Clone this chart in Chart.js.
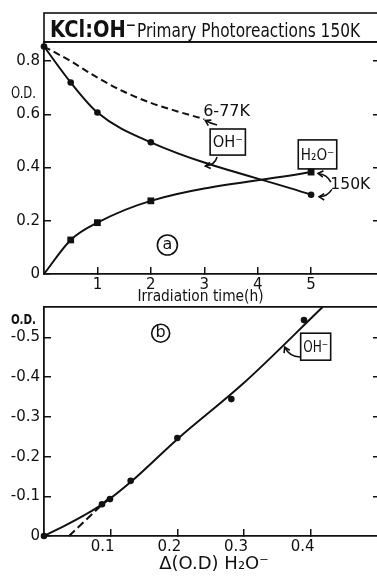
<!DOCTYPE html>
<html lang="en">
<head>
<meta charset="UTF-8">
<title>KCl:OH- Primary Photoreactions 150K</title>
<script src="https://cdn.jsdelivr.net/npm/chart.js"></script>
<style>
    html, body { margin: 0; padding: 0; background: #fff; overflow: hidden; }
    #wrap { position: relative; width: 377px; height: 577px; overflow: hidden; background: #fff; }
    canvas { position: absolute; left: 0; top: 0; }
</style>
</head>
<body>
<div id="wrap">
    <canvas id="chartTime" width="385" height="577"></canvas>
    <canvas id="chartDelta" width="385" height="577"></canvas>
</div>
<script>
    // (a) O.D. vs irradiation time
    var hours = [0, 0.5, 1, 2, 5];
    var odOH150 = [0.855, 0.72, 0.607, 0.495, 0.298];
    var odH2O150 = [0, 0.128, 0.193, 0.275, 0.383];
    var hours677 = [0, 0.5, 1, 1.5, 2, 2.5, 3];
    var odOH677 = [0.855, 0.80, 0.738, 0.685, 0.643, 0.611, 0.582];
    var hourTicks = [1, 2, 3, 4, 5];
    var hourLabels = ['1', '2', '3', '4', '5'];
    var odTicks = [0, 0.2, 0.4, 0.6, 0.8];
    var odLabels = ['0', '0.2', '0.4', '0.6', '0.8'];

    // (b) O.D. OH- vs delta(O.D.) H2O-
    var dH2O = [0, 0.087, 0.099, 0.13, 0.2, 0.281, 0.39];
    var dOH = [0, 0.08, 0.093, 0.139, 0.247, 0.345, 0.544];
    var fitX = [0, 0.03, 0.06, 0.09, 0.13, 0.2, 0.3, 0.418];
    var fitY = [0, 0.025, 0.052, 0.083, 0.136, 0.244, 0.386, 0.577];
    var lineX = [0.0375, 0.095];
    var lineY = [0, 0.092];
    var dTicksX = [0.1, 0.2, 0.3, 0.4];
    var dLabelsX = ['0.1', '0.2', '0.3', '0.4'];
    var dTicksY = [0, 0.1, 0.2, 0.3, 0.4, 0.5];
    var dLabelsY = ['0', '-0.1', '-0.2', '-0.3', '-0.4', '-0.5'];

    var INK = '#111';
    var FONT = '"DejaVu Sans", sans-serif';
    Chart.defaults.font.family = FONT;
    Chart.defaults.color = INK;

    function pts(xs, ys) {
        return xs.map(function (v, i) { return { x: v, y: ys[i] }; });
    }

    function fixTicks(list) {
        return function (s) { s.ticks = list.map(function (v) { return { value: v }; }); };
    }

    function arrow(ctx, x1, y1, cx, cy, x2, y2) {
        ctx.beginPath();
        ctx.moveTo(x1, y1);
        ctx.quadraticCurveTo(cx, cy, x2, y2);
        ctx.stroke();
        var a = Math.atan2(y2 - cy, x2 - cx);
        ctx.beginPath();
        ctx.moveTo(x2 - 6 * Math.cos(a - 0.55), y2 - 6 * Math.sin(a - 0.55));
        ctx.lineTo(x2, y2);
        ctx.lineTo(x2 - 6 * Math.cos(a + 0.55), y2 - 6 * Math.sin(a + 0.55));
        ctx.stroke();
    }

    function boxLabel(ctx, x1, y1, x2, y2, txt, size) {
        ctx.strokeRect(x1, y1, x2 - x1, y2 - y1);
        ctx.font = size + 'px ' + FONT;
        ctx.textAlign = 'center';
        ctx.textBaseline = 'middle';
        ctx.fillText(txt, (x1 + x2) / 2, (y1 + y2) / 2 + 1, x2 - x1 - 5);
    }

    function circled(ctx, x, y, r, letter) {
        ctx.beginPath();
        ctx.arc(x, y, r, 0, Math.PI * 2);
        ctx.stroke();
        ctx.font = '16px ' + FONT;
        ctx.textAlign = 'center';
        ctx.textBaseline = 'middle';
        ctx.fillText(letter, x, y);
    }

    function axes(xMin, xMax, xTicks, xLabels, xOffset, yMin, yMax, yTicks, yLabels) {
        var grid = { drawOnChartArea: false, tickLength: -7, color: INK, lineWidth: 1.5 };
        var border = { color: INK, width: 1.8 };
        return {
            x: {
                type: 'linear', position: 'bottom', min: xMin, max: xMax,
                afterBuildTicks: fixTicks(xTicks),
                afterFit: function (s) { s.height = 30; },
                grid: grid, border: border,
                ticks: {
                    font: { size: 15 }, color: INK, padding: 9, labelOffset: xOffset,
                    maxRotation: 0, autoSkip: false,
                    callback: function (v, i) { return xLabels[i]; }
                }
            },
            x2: {
                type: 'linear', position: 'top', min: xMin, max: xMax,
                afterFit: function (s) { s.height = 0; },
                grid: { display: false }, border: border, ticks: { display: false }
            },
            y: {
                type: 'linear', position: 'left', min: yMin, max: yMax,
                afterBuildTicks: fixTicks(yTicks),
                afterFit: function (s) { s.width = 44; },
                grid: grid, border: border,
                ticks: {
                    font: { size: 15 }, color: INK, padding: 11, autoSkip: false,
                    callback: function (v, i) { return yLabels[i]; }
                }
            },
            y2: {
                type: 'linear', position: 'right', min: yMin, max: yMax,
                afterBuildTicks: fixTicks(yTicks.slice(1)),
                afterFit: function (s) { s.width = 0; },
                grid: grid, border: { display: false }, ticks: { display: false }
            }
        };
    }

    var common = {
        responsive: false,
        animation: false,
        events: [],
        plugins: { legend: { display: false }, tooltip: { enabled: false } }
    };

    // ---- panel (a)
    var annotA = {
        id: 'annotA',
        afterDraw: function (chart) {
            var ctx = chart.ctx, a = chart.chartArea;
            var sx = chart.scales.x, sy = chart.scales.y;
            function X(v) { return sx.getPixelForValue(v); }
            function Y(v) { return sy.getPixelForValue(v); }
            ctx.save();
            ctx.strokeStyle = INK;
            ctx.fillStyle = INK;
            ctx.lineWidth = 1.6;

            // title box
            ctx.strokeRect(a.left, a.top - 29, chart.width, 29);
            ctx.textAlign = 'left';
            ctx.textBaseline = 'alphabetic';
            ctx.font = 'bold 23px ' + FONT;
            ctx.fillText('KCl:OH\u207B', a.left + 6, a.top - 5, 86);
            ctx.font = '19px ' + FONT;
            ctx.fillText('Primary Photoreactions 150K', a.left + 93, a.top - 5, 223);

            // axis titles
            ctx.font = '15px ' + FONT;
            ctx.fillText('O.D.', a.left - 33, Y(0.662), 25);
            ctx.textAlign = 'center';
            ctx.fillText('Irradiation time(h)', X(2.93), a.bottom + 27, 126);

            // labels
            ctx.textAlign = 'left';
            ctx.font = '16px ' + FONT;
            ctx.fillText('6-77K', X(2.98), Y(0.594), 54);
            arrow(ctx, X(3.24), Y(0.56), X(3.13), Y(0.565), X(3.02), Y(0.577));

            boxLabel(ctx, X(3.11), Y(0.545), X(3.77), Y(0.447), 'OH\u207B', 16);
            arrow(ctx, X(3.24), Y(0.44), X(3.2), Y(0.41), X(3.02), Y(0.406));

            boxLabel(ctx, X(4.76), Y(0.504), X(5.48), Y(0.395), 'H\u2082O\u207B', 16);
            ctx.textAlign = 'left';
            ctx.textBaseline = 'alphabetic';
            ctx.font = '16px ' + FONT;
            ctx.fillText('150K', X(5.36), Y(0.318), 40);
            arrow(ctx, X(5.37), Y(0.345), X(5.3), Y(0.375), X(5.13), Y(0.378));
            arrow(ctx, X(5.39), Y(0.318), X(5.3), Y(0.29), X(5.15), Y(0.29));

            circled(ctx, X(2.31), Y(0.109), 10, 'a');
            ctx.restore();
        }
    };

    new Chart(document.getElementById('chartTime'), {
        type: 'scatter',
        data: {
            datasets: [{
                label: 'OH- 150K',
                data: pts(hours, odOH150),
                showLine: true,
                cubicInterpolationMode: 'monotone',
                borderColor: INK, backgroundColor: INK, borderWidth: 2,
                pointStyle: 'circle', pointRadius: 3.3, pointBorderWidth: 0,
                clip: false
            }, {
                label: 'H2O- 150K',
                data: pts(hours, odH2O150),
                showLine: true,
                cubicInterpolationMode: 'monotone',
                borderColor: INK, backgroundColor: INK, borderWidth: 2,
                pointStyle: 'rect', pointRadius: [0, 4.8, 4.8, 4.8, 4.8], pointBorderWidth: 0,
                clip: false
            }, {
                label: 'OH- 6-77K',
                data: pts(hours677, odOH677),
                showLine: true,
                cubicInterpolationMode: 'monotone',
                borderColor: INK, borderWidth: 2, borderDash: [7, 4],
                pointRadius: 0,
                clip: false
            }]
        },
        options: Object.assign({}, common, {
            layout: { padding: { top: 42, bottom: 273, left: 0, right: 5 } },
            scales: axes(0, 6.29, hourTicks, hourLabels, 0, 0, 0.872, odTicks, odLabels)
        }),
        plugins: [annotA]
    });

    // ---- panel (b)
    var annotB = {
        id: 'annotB',
        afterDraw: function (chart) {
            var ctx = chart.ctx, a = chart.chartArea;
            var sx = chart.scales.x, sy = chart.scales.y;
            function X(v) { return sx.getPixelForValue(v); }
            function Y(v) { return sy.getPixelForValue(v); }
            ctx.save();
            ctx.strokeStyle = INK;
            ctx.fillStyle = INK;
            ctx.lineWidth = 1.6;

            ctx.textAlign = 'left';
            ctx.textBaseline = 'alphabetic';
            ctx.font = 'bold 14px ' + FONT;
            ctx.fillText('O.D.', a.left - 33, a.top + 17, 25);

            ctx.font = '18px ' + FONT;
            ctx.textAlign = 'center';
            ctx.fillText('\u0394(O.D) H\u2082O\u207B', X(0.255), a.bottom + 33, 118);

            circled(ctx, X(0.175), Y(0.511), 9, 'b');
            boxLabel(ctx, X(0.385), Y(0.511), X(0.43), Y(0.443), 'OH\u207B', 15);
            arrow(ctx, X(0.384), Y(0.451), X(0.368), Y(0.452), X(0.361), Y(0.476));
            ctx.restore();
        }
    };

    new Chart(document.getElementById('chartDelta'), {
        type: 'scatter',
        data: {
            datasets: [{
                label: 'measured',
                data: pts(dH2O, dOH),
                borderColor: INK, backgroundColor: INK,
                pointStyle: 'circle', pointRadius: 3.3, pointBorderWidth: 0,
                clip: false
            }, {
                label: 'fit',
                data: pts(fitX, fitY),
                showLine: true,
                cubicInterpolationMode: 'monotone',
                borderColor: INK, borderWidth: 2,
                pointRadius: 0,
                clip: false
            }, {
                label: 'linear',
                data: pts(lineX, lineY),
                showLine: true,
                borderColor: INK, borderWidth: 2, borderDash: [8, 4],
                pointRadius: 0,
                clip: false
            }]
        },
        options: Object.assign({}, common, {
            layout: { padding: { top: 307, bottom: 11, left: 0, right: 5 } },
            scales: axes(0, 0.504, dTicksX, dLabelsX, -8, 0, 0.577, dTicksY, dLabelsY)
        }),
        plugins: [annotB]
    });
</script>
</body>
</html>
